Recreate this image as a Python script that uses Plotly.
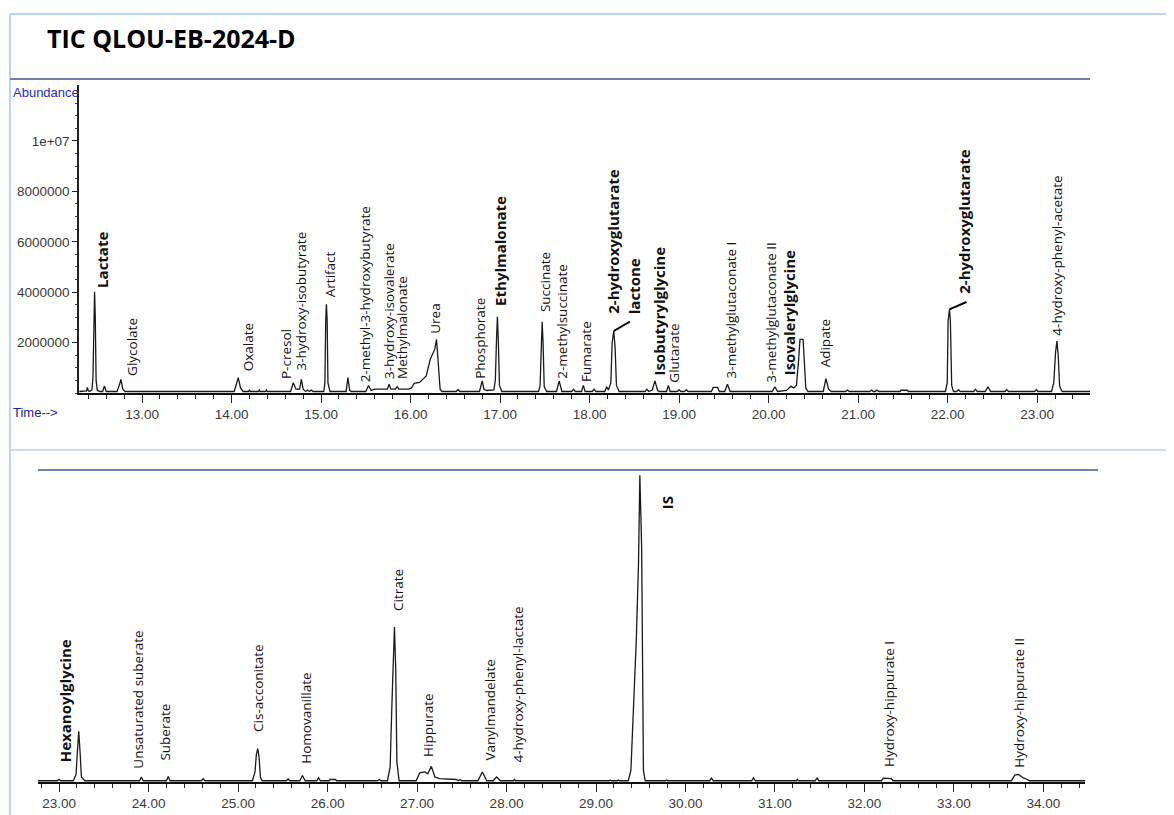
import plotly.graph_objects as go

# ---------------- data (abundance in millions) ----------------
top_rt = [
    12.30, 12.37,
    12.38, 12.39, 12.40, 12.42,
    12.44, 12.452, 12.46, 12.47, 12.478, 12.487, 12.50, 12.53,
    12.56, 12.58, 12.60,
    12.72, 12.745, 12.765, 12.785, 12.81,
    14.03, 14.055, 14.075, 14.10, 14.13,
    14.19, 14.20, 14.21,
    14.30, 14.31, 14.32,
    14.38, 14.39, 14.40,
    14.66, 14.69, 14.72, 14.76, 14.78, 14.80, 14.83,
    14.85, 14.87, 14.89, 14.91,
    15.03, 15.043, 15.052, 15.06, 15.068, 15.077, 15.10,
    15.28, 15.30, 15.32, 15.34,
    15.50, 15.53, 15.56, 15.60,
    15.74, 15.76, 15.78,
    15.83, 15.85, 15.87,
    15.98, 16.01, 16.04, 16.10, 16.175, 16.22, 16.27, 16.29, 16.31, 16.33, 16.35,
    16.51, 16.53, 16.55,
    16.77, 16.785, 16.80, 16.82, 16.85,
    16.93, 16.947, 16.96, 16.97, 16.98, 16.993, 17.02,
    17.43, 17.447, 17.46, 17.47, 17.48, 17.493, 17.52,
    17.63, 17.66, 17.69,
    17.80, 17.82, 17.84,
    17.91, 17.93, 17.95,
    18.03, 18.05, 18.07,
    18.17, 18.19, 18.21, 18.237, 18.252, 18.27, 18.285, 18.30, 18.33,
    18.62, 18.64, 18.66,
    18.70, 18.73, 18.76, 18.78,
    18.86, 18.88, 18.90,
    18.98, 19.00, 19.02,
    19.06, 19.08, 19.10,
    19.36, 19.38, 19.43, 19.45,
    19.51, 19.54, 19.57,
    20.04, 20.07, 20.10,
    20.20, 20.25, 20.28, 20.31, 20.335, 20.35, 20.385, 20.40, 20.415, 20.44,
    20.61, 20.64, 20.67, 20.70,
    20.86, 20.88, 20.90,
    21.13, 21.15, 21.17,
    21.19, 21.21, 21.23,
    21.47, 21.48, 21.55, 21.56,
    21.975, 21.995, 22.005, 22.02, 22.03, 22.045, 22.065,
    22.10, 22.12, 22.14,
    22.29, 22.31, 22.33,
    22.42, 22.45, 22.48,
    22.64, 22.66, 22.68,
    22.97, 22.99, 23.01,
    23.16, 23.185, 23.205, 23.22, 23.235, 23.25, 23.265, 23.28,
    23.59,
]
top_abund = [
    0.06, 0.06,
    0.08, 0.22, 0.08, 0.07,
    0.12, 0.6, 3.0, 4.02, 3.0, 0.5, 0.1, 0.06,
    0.06, 0.28, 0.06,
    0.06, 0.3, 0.54, 0.15, 0.06,
    0.06, 0.35, 0.61, 0.2, 0.06,
    0.06, 0.13, 0.06,
    0.06, 0.12, 0.06,
    0.06, 0.12, 0.06,
    0.06, 0.41, 0.15, 0.15, 0.54, 0.15, 0.06,
    0.12, 0.06, 0.12, 0.06,
    0.06, 0.4, 2.86, 3.52, 2.9, 0.4, 0.06,
    0.06, 0.61, 0.1, 0.06,
    0.06, 0.3, 0.1, 0.15,
    0.15, 0.35, 0.15,
    0.15, 0.25, 0.15,
    0.15, 0.2, 0.38, 0.42, 0.68, 1.34, 1.73, 2.13, 1.0, 0.15, 0.06,
    0.06, 0.14, 0.06,
    0.06, 0.25, 0.48, 0.15, 0.1,
    0.12, 0.5, 2.13, 3.02, 2.1, 0.3, 0.06,
    0.06, 0.3, 2.0, 2.83, 2.0, 0.25, 0.06,
    0.06, 0.48, 0.06,
    0.06, 0.15, 0.06,
    0.06, 0.3, 0.06,
    0.06, 0.15, 0.06,
    0.06, 0.25, 0.12, 0.4, 2.0, 2.46, 1.8, 0.3, 0.06,
    0.06, 0.15, 0.06,
    0.12, 0.48, 0.1, 0.06,
    0.06, 0.3, 0.06,
    0.06, 0.13, 0.06,
    0.06, 0.13, 0.06,
    0.06, 0.22, 0.22, 0.06,
    0.06, 0.35, 0.06,
    0.06, 0.25, 0.06,
    0.1, 0.27, 0.2, 0.3, 1.3, 2.13, 2.13, 1.3, 0.2, 0.06,
    0.06, 0.57, 0.15, 0.06,
    0.06, 0.12, 0.06,
    0.06, 0.12, 0.06,
    0.06, 0.12, 0.06,
    0.06, 0.11, 0.11, 0.06,
    0.06, 0.4, 2.86, 3.32, 2.9, 0.3, 0.06,
    0.06, 0.13, 0.06,
    0.06, 0.15, 0.06,
    0.06, 0.25, 0.06,
    0.06, 0.13, 0.06,
    0.06, 0.13, 0.06,
    0.06, 0.4, 1.6, 2.06, 1.5, 0.3, 0.15, 0.06,
    0.06,
]

bot_rt = [
    22.765, 22.98,
    23.00, 23.02,
    23.16, 23.19, 23.205, 23.22, 23.235, 23.25, 23.27, 23.29,
    23.90, 23.92, 23.94,
    24.20, 24.22, 24.24,
    24.59, 24.61, 24.63,
    25.16, 25.19, 25.205, 25.22, 25.235, 25.25, 25.27,
    25.54, 25.56, 25.58,
    25.69, 25.72, 25.75,
    25.88, 25.90, 25.92,
    26.02, 26.03, 26.09, 26.10,
    26.56, 26.58, 26.60,
    26.67, 26.70, 26.72, 26.735, 26.748, 26.762, 26.775, 26.80,
    26.99, 27.03, 27.09, 27.12, 27.16, 27.20, 27.25, 27.44, 27.46,
    27.48, 27.50,
    27.68, 27.73, 27.78,
    27.85, 27.89, 27.93,
    28.08, 28.09, 28.10,
    29.15, 29.16, 29.17, 29.24, 29.25, 29.26,
    29.36, 29.39, 29.45, 29.475, 29.49, 29.51, 29.53, 29.55,
    29.78, 29.79, 29.80,
    30.27, 30.29, 30.31,
    30.74, 30.76, 30.78,
    31.24, 31.25, 31.26,
    31.45, 31.47, 31.49,
    32.19, 32.21, 32.30, 32.32,
    33.64, 33.68, 33.72, 33.78, 33.82, 33.84,
    34.465,
]
bot_abund = [
    0.05, 0.05,
    0.1, 0.05,
    0.05, 0.3, 1.2, 2.01, 1.2, 0.2, 0.12, 0.05,
    0.05, 0.2, 0.05,
    0.05, 0.22, 0.05,
    0.05, 0.13, 0.05,
    0.05, 0.4, 1.1, 1.32, 1.0, 0.2, 0.05,
    0.05, 0.12, 0.05,
    0.05, 0.26, 0.05,
    0.05, 0.17, 0.05,
    0.05, 0.1, 0.1, 0.05,
    0.05, 0.1, 0.05,
    0.05, 0.6, 3.12, 4.96, 6.15, 4.5, 0.8, 0.05,
    0.05, 0.36, 0.4, 0.33, 0.62, 0.2, 0.13, 0.1, 0.05,
    0.1, 0.05,
    0.05, 0.4, 0.05,
    0.05, 0.2, 0.05,
    0.05, 0.1, 0.05,
    0.05, 0.08, 0.05, 0.05, 0.08, 0.05,
    0.05, 0.46, 5.62, 8.67, 12.17, 9.33, 0.46, 0.05,
    0.05, 0.08, 0.05,
    0.05, 0.15, 0.05,
    0.05, 0.17, 0.05,
    0.05, 0.1, 0.05,
    0.05, 0.15, 0.05,
    0.05, 0.15, 0.13, 0.05,
    0.05, 0.27, 0.3, 0.15, 0.1, 0.05,
    0.05,
]
assert len(top_rt) == len(top_abund) and len(bot_rt) == len(bot_abund)

# peak labels (retention time, label base height in millions, bold)
top_names = ["Lactate", "Glycolate", "Oxalate", "P-cresol", "3-hydroxy-isobutyrate", "Artifact",
             "2-methyl-3-hydroxybutyrate", "3-hydroxy-isovalerate", "Methylmalonate", "Urea",
             "Phosphorate", "Ethylmalonate", "Succinate", "2-methylsuccinate", "Fumarate",
             "2-hydroxyglutarate", "lactone", "Isobutyrylglycine", "Glutarate",
             "3-methylglutaconate I", "3-methylglutaconate II", "Isovalerylglycine", "Adipate",
             "2-hydroxyglutarate", "4-hydroxy-phenyl-acetate"]
top_label_rt = [12.55, 12.88, 14.18, 14.61, 14.78, 15.10, 15.50, 15.76, 15.91, 16.27,
                16.78, 17.00, 17.51, 17.69, 17.96, 18.26, 18.50, 18.78, 18.94,
                19.58, 20.03, 20.23, 20.63, 22.18, 23.22]
top_label_y = [4.12, 0.65, 0.81, 0.52, 0.85, 3.76, 0.38, 0.52, 0.52, 2.30,
               0.52, 3.42, 3.16, 0.54, 0.38, 3.10, 3.10, 0.65, 0.38,
               0.52, 0.36, 0.65, 0.98, 3.89, 2.23]
top_bold = [True, False, False, False, False, False, False, False, False, False,
            False, True, False, False, False, True, True, True, False,
            False, False, True, False, True, False]

bot_names = ["Hexanoylglycine", "Unsaturated suberate", "Suberate", "Cis-acconitate",
             "Homovanillate", "Citrate", "Hippurate", "Vanylmandelate",
             "4-hydroxy-phenyl-lactate", "IS", "Hydroxy-hippurate I", "Hydroxy-hippurate II"]
bot_label_rt = [23.06, 23.88, 24.19, 25.23, 25.75, 26.78, 27.13, 27.82, 28.13, 29.79, 32.28, 33.73]
bot_label_y = [0.74, 0.48, 0.81, 1.93, 0.67, 6.76, 0.94, 0.81, 0.74, 10.79, 0.54, 0.54]
bot_bold = [True, False, False, False, False, False, False, False, False, True, False, False]

# leader lines: (peak rt, peak height) -> label foot
leader_from_rt = [18.27, 22.02]
leader_from_y = [2.46, 3.32]
leader_to_rt = [18.45, 22.21]
leader_to_y = [2.83, 3.61]

y_tickvals = [2, 4, 6, 8, 10]
y_ticktext = ["2000000", "4000000", "6000000", "8000000", "1e+07"]

# ---------------- figure ----------------
# the page body has an 8px margin; the figure is sized so it fills the window exactly
OFF = 8
W, H = 1174 - OFF, 815 - OFF
def px_x(p):
    return (p - OFF) / W
def px_y(p):
    return 1 - (p - OFF) / H

NARROW = "Liberation Sans Narrow, Arial Narrow, Liberation Sans, Arial, sans-serif"
LABEL_FONT = "Open Sans, Noto Sans, sans-serif"
TICK_SIZE = 13.5

fig = go.Figure()
fig.add_trace(go.Scatter(x=top_rt, y=top_abund, mode="lines", xaxis="x", yaxis="y",
                         line=dict(color="#1a1a1a", width=1.3), hoverinfo="x+y", showlegend=False))
fig.add_trace(go.Scatter(x=bot_rt, y=bot_abund, mode="lines", xaxis="x2", yaxis="y2",
                         line=dict(color="#1a1a1a", width=1.3), hoverinfo="x+y", showlegend=False))

xcommon = dict(showline=True, linecolor="#111", linewidth=2, ticks="outside", ticklen=8,
               tickwidth=1, tickcolor="#222", dtick=1, tick0=0, tickformat=".2f",
               showgrid=False, zeroline=False,
               tickfont=dict(family=NARROW, size=TICK_SIZE, color="#3a3a3a"),
               minor=dict(ticks="outside", ticklen=4, dtick=0.2, tickcolor="#222", showgrid=False),
               fixedrange=True)

fig.update_layout(
    width=W, height=H, autosize=False,
    margin=dict(l=0, r=0, t=0, b=0),
    paper_bgcolor="white", plot_bgcolor="white",
    xaxis=dict(domain=[px_x(79), px_x(1090)], range=[12.296, 23.59], anchor="y", **xcommon),
    yaxis=dict(domain=[px_y(393), px_y(85)], range=[0, 12.22], anchor="x",
               showline=True, linecolor="#222", linewidth=1.5, ticks="outside", ticklen=5,
               tickcolor="#222", tickvals=y_tickvals, ticktext=y_ticktext,
               tickfont=dict(family=NARROW, size=TICK_SIZE, color="#3a3a3a"),
               minor=dict(ticks="outside", ticklen=2, dtick=0.5, tickcolor="#444"),
               showgrid=False, zeroline=False, fixedrange=True),
    xaxis2=dict(domain=[px_x(38), px_x(1085)], range=[22.765, 34.464], anchor="y2", **xcommon),
    yaxis2=dict(domain=[px_y(782), px_y(470)], range=[0, 12.38], anchor="x2",
                visible=False, fixedrange=True),
)

shapes = []
# slide frame lines
shapes.append(dict(type="line", xref="paper", yref="paper", x0=px_x(10), x1=px_x(1174),
                   y0=px_y(14), y1=px_y(14), line=dict(color="#a9c7ec", width=1.5)))
shapes.append(dict(type="line", xref="paper", yref="paper", x0=px_x(10), x1=px_x(10),
                   y0=px_y(14), y1=px_y(815), line=dict(color="#a9c7ec", width=1.5)))
shapes.append(dict(type="line", xref="paper", yref="paper", x0=px_x(10), x1=px_x(1174),
                   y0=px_y(450), y1=px_y(450), line=dict(color="#b7d0ee", width=1.5)))
# panel header lines
shapes.append(dict(type="line", xref="paper", yref="paper", x0=px_x(10), x1=px_x(1090),
                   y0=px_y(79), y1=px_y(79), line=dict(color="#6f7fa8", width=2)))
shapes.append(dict(type="line", xref="paper", yref="paper", x0=px_x(38), x1=px_x(1098),
                   y0=px_y(470), y1=px_y(470), line=dict(color="#6f7fa8", width=2)))
for r0, y0, r1, y1 in zip(leader_from_rt, leader_from_y, leader_to_rt, leader_to_y):
    shapes.append(dict(type="line", xref="x", yref="y", x0=r0, y0=y0, x1=r1, y1=y1,
                       line=dict(color="#000", width=2)))
fig.update_layout(shapes=shapes)

ann = []
ann.append(dict(text="<b>TIC QLOU-EB-2024-D</b>", xref="paper", yref="paper",
                x=px_x(45), y=px_y(38), xanchor="left", yanchor="middle", showarrow=False,
                font=dict(family=LABEL_FONT, size=25, color="#000")))
ann.append(dict(text="Abundance", xref="paper", yref="paper", x=px_x(11), y=px_y(92),
                xanchor="left", yanchor="middle", showarrow=False,
                font=dict(family=NARROW, size=13, color="#2a2ad6")))
ann.append(dict(text="Time-->", xref="paper", yref="paper", x=px_x(11), y=px_y(413),
                xanchor="left", yanchor="middle", showarrow=False,
                font=dict(family=NARROW, size=13, color="#1c1c8c")))

def add_labels(names, rts, ys, bolds, xref, yref):
    for n, r, yv, b in zip(names, rts, ys, bolds):
        ann.append(dict(text=f"<b>{n}</b>" if b else n, xref=xref, yref=yref, x=r, y=yv,
                        xanchor="center", yanchor="bottom", textangle=-90, showarrow=False,
                        borderpad=0,
                        font=dict(family=LABEL_FONT, size=15 if b else 13.5, color="#111")))

add_labels(top_names, top_label_rt, top_label_y, top_bold, "x", "y")
add_labels(bot_names, bot_label_rt, bot_label_y, bot_bold, "x2", "y2")
fig.update_layout(annotations=ann)

fig.write_html("out.html")
